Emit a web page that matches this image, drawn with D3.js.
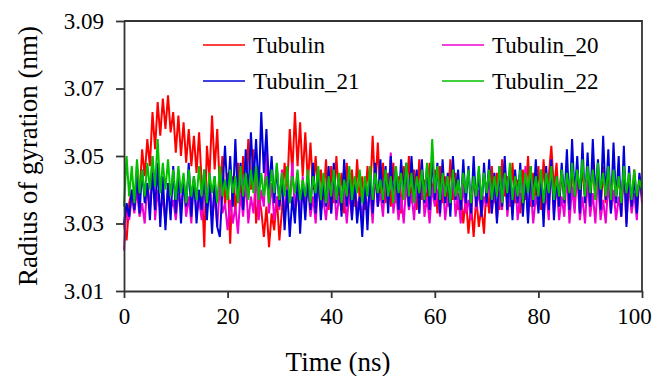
<!DOCTYPE html>
<html>
<head>
<meta charset="utf-8">
<script src="https://cdn.jsdelivr.net/npm/d3@7"></script>
<style>
  body { margin: 0; background: #fff; }
  svg { display: block; }
</style>
</head>
<body>
<svg id="chart" width="656" height="376"></svg>
<script>
// values are thousandths of a nm above 3.000, sampled every 0.5 ns from 0 to 100 ns
const tubulin = [
  30, 25, 36, 40, 35, 47, 38, 52, 44, 55,
  47, 63, 52, 66, 56, 67, 58, 68, 57, 63,
  51, 62, 50, 60, 48, 58, 47, 56, 45, 57,
  42, 23, 53, 44, 62, 46, 58, 40, 50, 35,
  45, 24, 44, 33, 48, 36, 50, 38, 55, 40,
  52, 30, 38, 34, 26, 35, 23, 33, 28, 38,
  25, 34, 48, 40, 58, 45, 63, 47, 60, 44,
  57, 42, 54, 40, 50, 38, 46, 37, 49, 34,
  47, 36, 50, 38, 45, 33, 48, 36, 46, 35,
  49, 37, 44, 34, 47, 38, 56, 40, 54, 37,
  48, 36, 45, 35, 48, 36, 44, 33, 47, 38,
  50, 36, 46, 34, 49, 37, 43, 35, 48, 38,
  46, 33, 47, 36, 44, 35, 49, 37, 45, 34,
  40, 30, 38, 27, 36, 26, 38, 29, 35, 27,
  42, 33, 47, 36, 45, 34, 49, 38, 44, 35,
  48, 36, 43, 33, 46, 37, 50, 35, 45, 38,
  47, 34, 49, 36, 44, 53, 40, 48, 35, 46,
  37, 44, 33, 48, 36, 45, 34, 47, 38, 43,
  35, 49, 37, 44, 33, 47, 36, 45, 34, 48,
  38, 44, 35, 47, 36, 43, 34, 46, 37, 42,
  39
];
const tubulin20 = [
  22, 35, 31, 38, 33, 40, 32, 36, 30, 42,
  34, 50, 31, 40, 33, 38, 30, 41, 34, 37,
  31, 39, 35, 42, 32, 38, 30, 44, 33, 37,
  31, 40, 34, 45, 32, 38, 29, 41, 33, 36,
  28, 37, 30, 35, 27, 39, 32, 43, 30, 38,
  33, 45, 31, 40, 35, 52, 33, 42, 31, 38,
  34, 46, 32, 41, 36, 48, 33, 40, 31, 44,
  35, 41, 32, 38, 30, 42, 34, 37, 31, 40,
  33, 44, 31, 38, 34, 41, 30, 39, 32, 43,
  34, 38, 31, 42, 33, 40, 30, 45, 35, 39,
  32, 44, 36, 51, 33, 40, 31, 38, 30, 42,
  34, 39, 31, 43, 33, 47, 32, 38, 30, 41,
  35, 40, 32, 44, 31, 38, 34, 46, 32, 39,
  30, 42, 33, 37, 31, 45, 34, 40, 32, 38,
  35, 46, 33, 41, 31, 39, 34, 48, 32, 40,
  33, 44, 31, 39, 35, 47, 32, 41, 30, 38,
  34, 46, 32, 40, 31, 49, 33, 42, 31, 38,
  32, 45, 30, 41, 33, 47, 31, 38, 30, 43,
  32, 39, 30, 44, 31, 37, 30, 42, 33, 40,
  31, 38, 32, 45, 30, 42, 33, 39, 31, 44,
  36
];
const tubulin21 = [
  30, 36, 32, 40, 34, 44, 33, 46, 36, 42,
  31, 45, 34, 48, 29, 44, 28, 42, 31, 47,
  33, 45, 30, 43, 35, 48, 32, 44, 30, 40,
  34, 46, 31, 42, 27, 44, 29, 26, 40, 53,
  38, 50, 35, 55, 36, 48, 34, 52, 38, 57,
  42, 55, 39, 63, 45, 58, 40, 50, 36, 47,
  35, 44, 28, 40, 26, 38, 30, 45, 27, 42,
  31, 44, 34, 48, 33, 46, 31, 42, 35, 47,
  33, 48, 36, 44, 32, 49, 35, 45, 31, 43,
  30, 38, 26, 42, 28, 45, 33, 48, 35, 49,
  36, 47, 33, 50, 37, 46, 34, 49, 38, 48,
  35, 50, 37, 46, 33, 49, 36, 47, 34, 50,
  37, 48, 33, 49, 36, 45, 32, 50, 37, 46,
  34, 49, 36, 47, 33, 50, 35, 46, 32, 48,
  36, 49, 33, 45, 30, 47, 35, 50, 34, 44,
  31, 46, 36, 48, 32, 44, 30, 47, 35, 49,
  33, 45, 29, 47, 34, 49, 31, 44, 35, 48,
  36, 52, 34, 55, 38, 50, 33, 54, 36, 51,
  35, 55, 38, 49, 34, 56, 37, 52, 33, 54,
  36, 50, 32, 53, 29, 47, 35, 44, 33, 45,
  38
];
const tubulin22 = [
  35, 50, 38, 47, 36, 49, 39, 46, 38, 48,
  40, 50, 41, 55, 39, 48, 40, 49, 38, 46,
  37, 47, 39, 45, 36, 46, 38, 44, 37, 47,
  38, 46, 36, 45, 39, 44, 36, 47, 38, 43,
  37, 46, 39, 44, 36, 47, 38, 45, 37, 46,
  39, 47, 37, 45, 38, 44, 36, 46, 39, 48,
  37, 45, 38, 47, 36, 44, 39, 46, 37, 43,
  38, 46, 36, 44, 39, 47, 37, 45, 36, 44,
  38, 46, 37, 45, 36, 43, 38, 47, 37, 44,
  39, 46, 36, 44, 38, 47, 37, 45, 39, 43,
  37, 46, 38, 44, 36, 47, 39, 45, 37, 48,
  38, 45, 36, 44, 39, 46, 37, 48, 38, 55,
  39, 47, 37, 45, 38, 44, 36, 46, 38, 43,
  37, 45, 39, 46, 36, 44, 38, 47, 37, 45,
  39, 46, 37, 44, 38, 47, 36, 45, 39, 48,
  37, 44, 38, 46, 36, 45, 39, 47, 37, 44,
  38, 46, 36, 45, 39, 47, 37, 44, 38, 46,
  37, 45, 39, 48, 38, 46, 40, 49, 38, 47,
  39, 46, 37, 48, 40, 45, 38, 47, 37, 46,
  38, 44, 36, 47, 39, 45, 37, 46, 38, 43,
  40
];

const seriesNames = ["Tubulin", "Tubulin_20", "Tubulin_21", "Tubulin_22"];
const seriesValues = [tubulin, tubulin20, tubulin21, tubulin22];
const seriesColors = ["#ff0000", "#f000d0", "#0000d8", "#00c000"];
const xTicks = [0, 20, 40, 60, 80, 100];
const yTicks = [3.01, 3.03, 3.05, 3.07, 3.09];
const timeStep = 0.5;

const serif = "'Liberation Serif', 'Times New Roman', Times, 'DejaVu Serif', serif";

const svg = d3.select("#chart");
const plotLeft = 124, plotRight = 642, plotTop = 21, plotBottom = 291;

const x = d3.scaleLinear().domain([0, 100]).range([plotLeft, plotRight]);
const y = d3.scaleLinear().domain([3.01, 3.09]).range([plotBottom, plotTop]);

// traces
const line = d3.line()
  .x((d, i) => x(i * timeStep))
  .y(d => y(3 + d / 1000));

svg.append("g")
  .selectAll("path")
  .data(seriesValues)
  .join("path")
  .attr("d", d => line(d))
  .attr("fill", "none")
  .attr("stroke", (d, i) => seriesColors[i])
  .attr("stroke-width", 2)
  .attr("stroke-linejoin", "bevel");

// axes
const axisColor = "#333";
const xAxis = svg.append("g")
  .attr("transform", "translate(0," + plotBottom + ")")
  .call(d3.axisBottom(x).tickValues(xTicks).tickSize(7).tickSizeOuter(0).tickPadding(10));
const yAxis = svg.append("g")
  .attr("transform", "translate(" + plotLeft + ",0)")
  .call(d3.axisLeft(y).tickValues(yTicks).tickFormat(d3.format(".2f")).tickSize(8).tickSizeOuter(0).tickPadding(12));

[xAxis, yAxis].forEach(a => {
  a.attr("font-family", serif).attr("font-size", 23);
  a.select(".domain").attr("stroke", axisColor).attr("stroke-width", 1.8);
  a.selectAll(".tick line").attr("stroke", axisColor).attr("stroke-width", 1.8);
  a.selectAll(".tick text").attr("fill", "#000");
});
// the last label sits a little inside the picture edge
xAxis.selectAll(".tick text").filter(d => d === 100).attr("dx", -8);

// top and right frame
svg.append("path")
  .attr("d", `M${plotLeft},${plotTop}H${plotRight}V${plotBottom}`)
  .attr("fill", "none")
  .attr("stroke", axisColor)
  .attr("stroke-width", 1.8);

// axis titles
svg.append("text")
  .attr("x", 338)
  .attr("y", 371)
  .attr("text-anchor", "middle")
  .attr("font-family", serif)
  .attr("font-size", 27)
  .text("Time (ns)");

svg.append("text")
  .attr("transform", "translate(37,156) rotate(-90)")
  .attr("text-anchor", "middle")
  .attr("font-family", serif)
  .attr("font-size", 27)
  .text("Radius of gyration (nm)");

// legend, two columns
const legendX = [203, 442];
const legendY = [45, 81];
const legend = svg.append("g")
  .attr("font-family", serif)
  .attr("font-size", 23)
  .selectAll("g")
  .data(seriesNames)
  .join("g")
  .attr("transform", (d, i) => "translate(" + legendX[i % 2] + "," + legendY[Math.floor(i / 2)] + ")");

legend.append("line")
  .attr("x1", 0).attr("x2", 42)
  .attr("stroke", (d, i) => seriesColors[i])
  .attr("stroke-width", 1.3);

legend.append("text")
  .attr("x", 50)
  .attr("y", 8)
  .text(d => d);
</script>
</body>
</html>
